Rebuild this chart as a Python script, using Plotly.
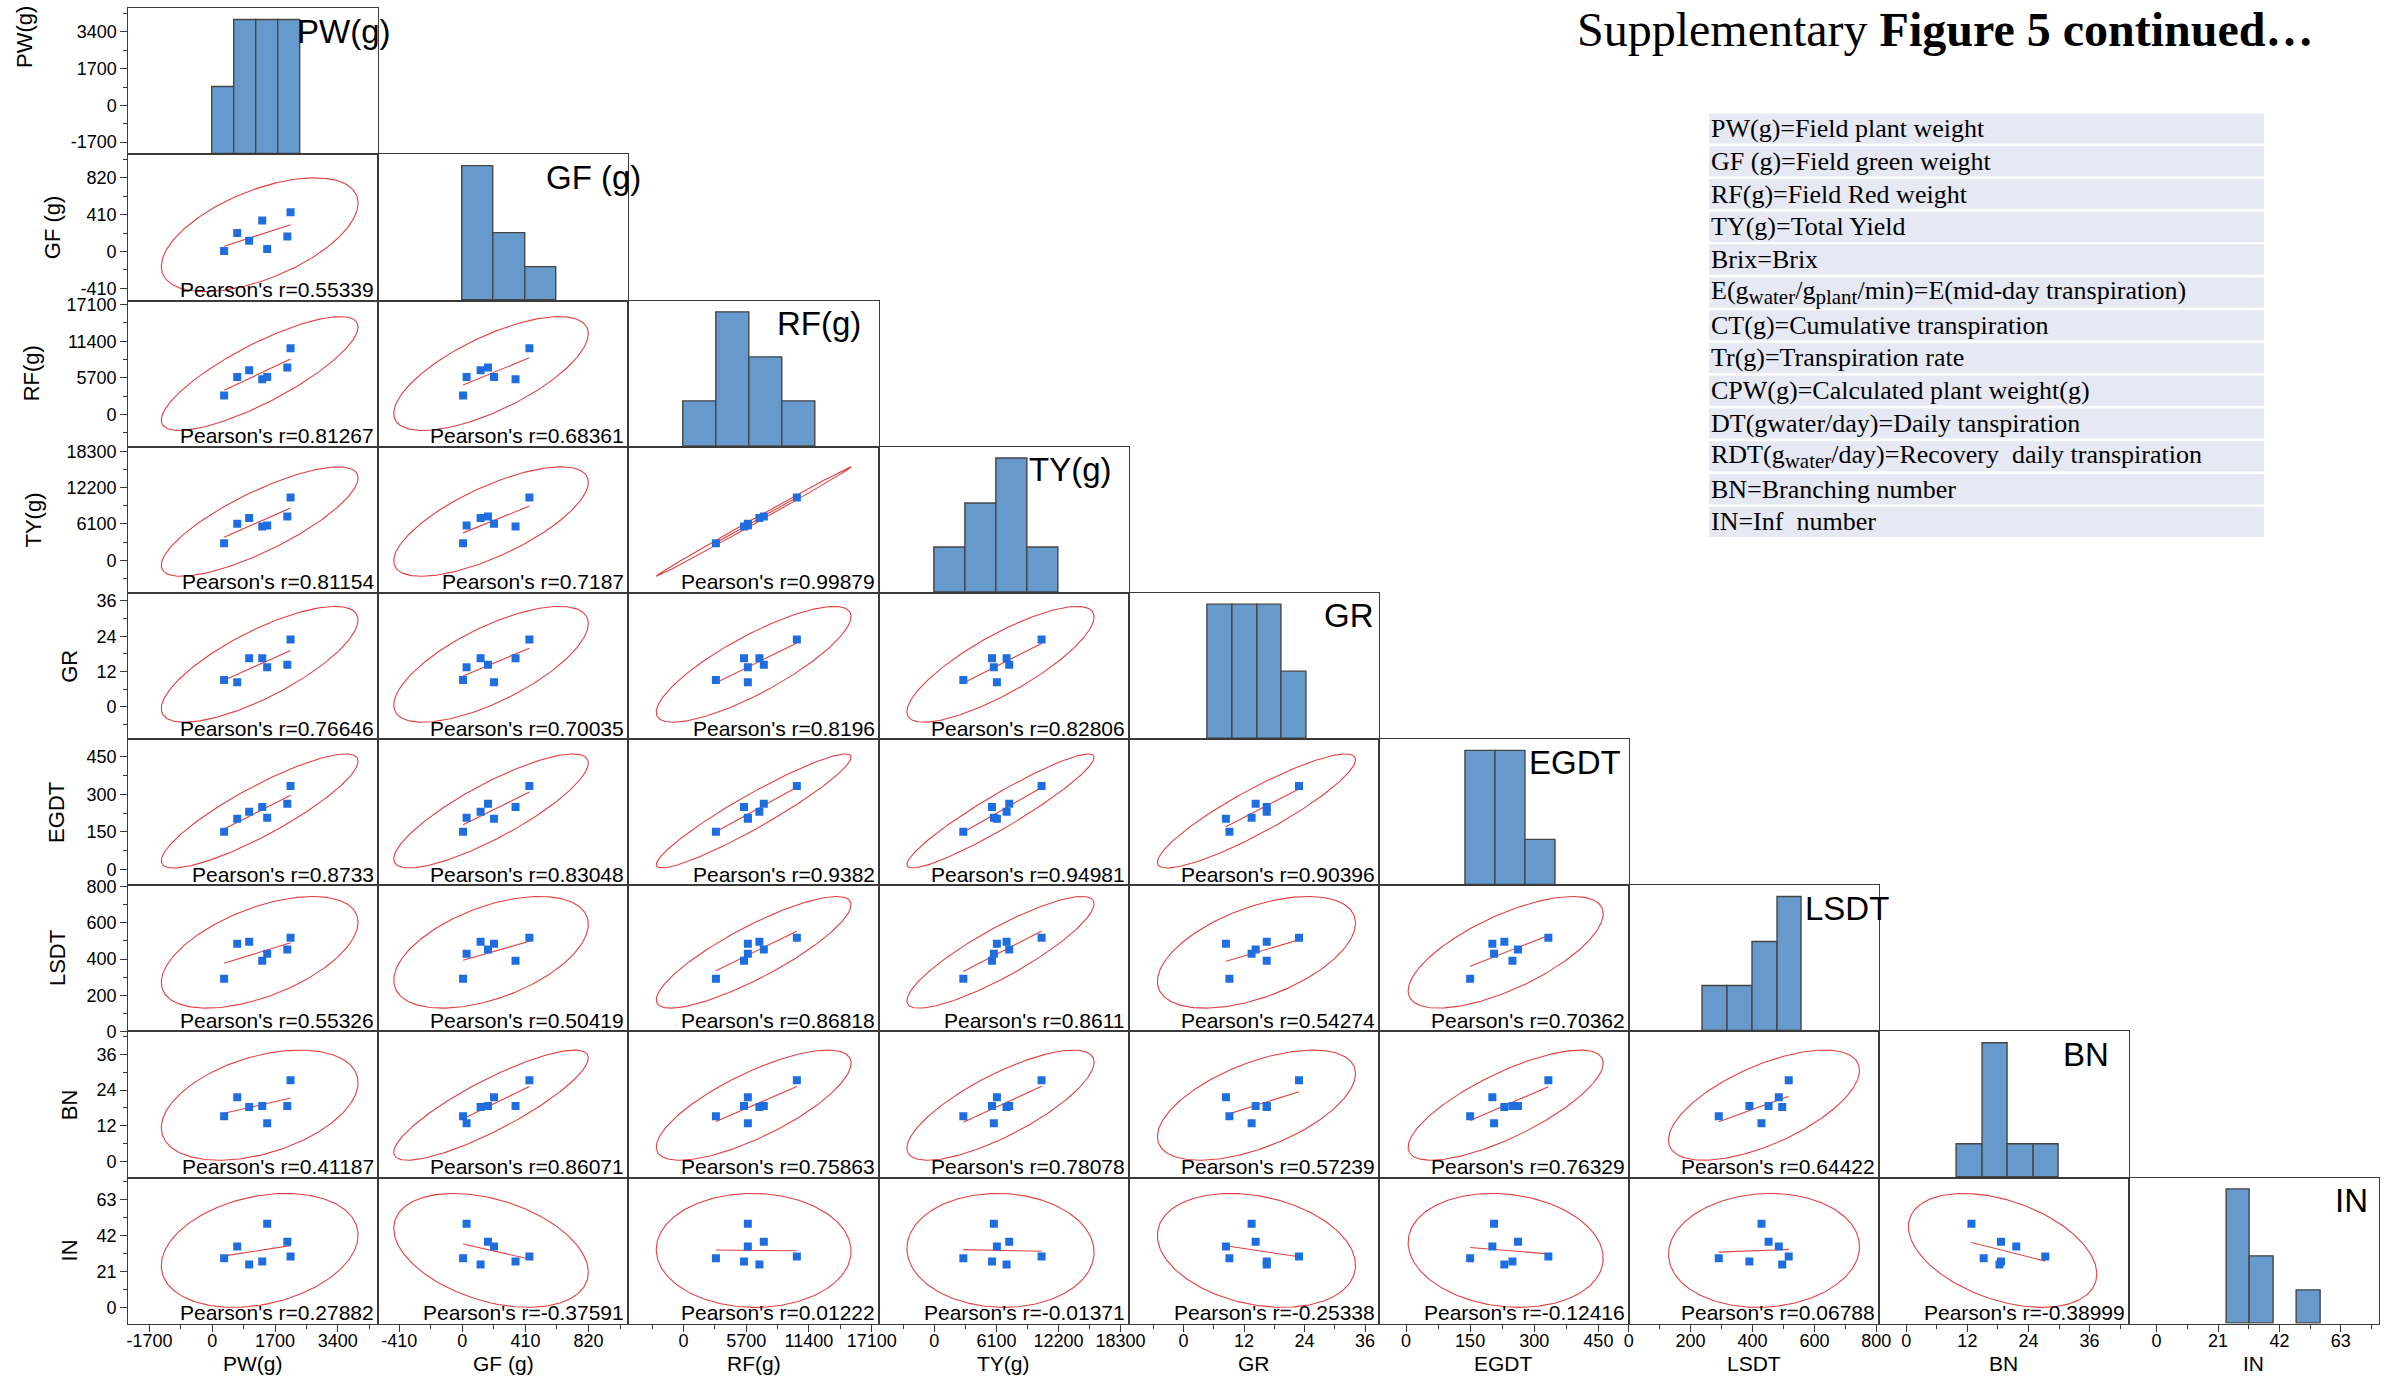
import numpy as np
import plotly.graph_objects as go

# ---------------- data ----------------
var_names = ["PW(g)", "GF (g)", "RF(g)", "TY(g)", "GR", "EGDT", "LSDT", "BN", "IN"]

PW = [322, 677, 1000, 1354, 1488, 2033, 2121]
GF = [5, 206, 119, 346, 28, 167, 436]
RF = [2950, 5850, 6900, 5500, 5850, 7300, 10300]
TY = [2850, 6150, 7100, 5670, 5850, 7360, 10540]
GR = [9.1, 8.4, 16.5, 16.5, 13.5, 14.3, 22.9]
EGDT = [150, 202, 230, 249, 206, 262, 333]
LSDT = [291, 485, 496, 390, 429, 452, 517]
BN = [15.2, 21.6, 18.3, 18.6, 12.8, 18.6, 27.3]
IN = [28.8, 35.6, 25.1, 26.9, 49.0, 38.5, 29.8]

axis_min = [-2270, -545, -4990, -5480, -10.9, -64, 0, -5.4, -9.5]
axis_max = [4500, 1080, 17720, 19090, 38.7, 521, 808, 43.7, 76]
tick_step = [1700, 410, 5700, 6100, 12, 150, 200, 12, 21]
bin_start = [0, 0, 0, 0, 4.8, 140, 240, 10, 24]
bin_size = [600, 204, 3000, 3050, 4.9, 70, 80, 5, 8]

pearson_r = [
    [],
    ["0.55339"],
    ["0.81267", "0.68361"],
    ["0.81154", "0.7187", "0.99879"],
    ["0.76646", "0.70035", "0.8196", "0.82806"],
    ["0.8733", "0.83048", "0.9382", "0.94981", "0.90396"],
    ["0.55326", "0.50419", "0.86818", "0.8611", "0.54274", "0.70362"],
    ["0.41187", "0.86071", "0.75863", "0.78078", "0.57239", "0.76329", "0.64422"],
    ["0.27882", "-0.37591", "0.01222", "-0.01371", "-0.25338", "-0.12416", "0.06788", "-0.38999"],
]

SUB = "<sub><span style='font-size:21px'>%s</span></sub>"
glossary = [
    "PW(g)=Field plant weight",
    "GF (g)=Field green weight",
    "RF(g)=Field Red weight",
    "TY(g)=Total Yield",
    "Brix=Brix",
    "E(g" + SUB % "water" + "/g" + SUB % "plant" + "/min)=E(mid-day transpiration)",
    "CT(g)=Cumulative transpiration",
    "Tr(g)=Transpiration rate",
    "CPW(g)=Calculated plant weight(g)",
    "DT(gwater/day)=Daily tanspiration",
    "RDT(g" + SUB % "water" + "/day)=Recovery  daily transpiration",
    "BN=Branching number",
    "IN=Inf  number",
]
title_text = "Supplementary <b>Figure 5 continued…</b>"

values = [PW, GF, RF, TY, GR, EGDT, LSDT, BN, IN]

# ---------------- style / geometry ----------------
W, H = 2399, 1383
# measured mapping from page pixels to the photographed picture
AX, BX, AY, BY = 0.989, 5.3, 0.9845, 9.8
X0, CW = 128.5, 249.7
Y0, RH = 10.0, 145.8
FONT = "Liberation Sans, Arial, sans-serif"
SERIF = "Liberation Serif, Times New Roman, serif"
LINE = "#3a3a3a"
RED = "#e0403f"
BLUE = "#1e6ee0"
HIST = "#6699cc"

diag_label_center = [215, 215, 190, 192, 220, 196, 218, 207, 222]
ytitle_x = [25, 53, 32, 34, 70, 56, 58, 70, 70]


def clamp(v):
    return min(1.0, max(0.0, v))


def px(x):
    return ((x - BX) / AX) / W


def py(y):
    return 1 - ((y - BY) / AY) / H


def tick_arrays(lo, hi, step):
    k0 = int(np.ceil(lo / step - 1e-9))
    k1 = int(np.floor(hi / step + 1e-9))
    vals = [step * kk for kk in range(k0, k1 + 1)]
    txt = [("%g" % v) for v in vals]
    return vals, txt


n = len(PW)
fq = (n - 2) / 2 * (0.05 ** (-2 / (n - 2)) - 1)
c2 = 2 * (n - 1) * (n + 1) / (n * (n - 2)) * fq
t = np.linspace(0, 2 * np.pi, 241)

fig = go.Figure()
layout = {}
annotations = []
shapes = []

tickfont = dict(family=FONT, size=18, color="black")


def tick_style(lo, hi, step, standoff=0):
    vals, txt = tick_arrays(lo, hi, step)
    return dict(ticks="outside", ticklen=7, tickwidth=1.3, tickcolor=LINE,
                showticklabels=True, tickfont=tickfont, tickmode="array",
                tickvals=vals, ticktext=txt, ticklabelstandoff=standoff,
                minor=dict(ticks="outside", ticklen=4, tickwidth=1.1, tickcolor=LINE,
                           tickmode="linear", tick0=0, dtick=step / 2))


k = 0
for i in range(9):
    for j in range(i + 1):
        k += 1
        s = "" if k == 1 else str(k)
        xn, yn = "x" + s, "y" + s
        xdom = [clamp(px(X0 + j * CW)), clamp(px(X0 + (j + 1) * CW))]
        ydom = [clamp(py(Y0 + (i + 1) * RH)), clamp(py(Y0 + i * RH))]

        xa = dict(domain=xdom, range=[axis_min[j], axis_max[j]], anchor=yn,
                  showgrid=False, zeroline=False, showline=True, mirror=True,
                  linecolor=LINE, linewidth=1.3, fixedrange=True)
        if i == 8:
            xa.update(tick_style(axis_min[j], axis_max[j], tick_step[j], standoff=-6))
        else:
            xa.update(ticks="", showticklabels=False)

        ya = dict(domain=ydom, anchor=xn, showgrid=False, zeroline=False,
                  showline=True, mirror=True, linecolor=LINE, linewidth=1.3,
                  fixedrange=True)

        if i == j:
            v = np.array(values[i], dtype=float)
            edges = np.arange(bin_start[i], v.max() + bin_size[i] * 1.01, bin_size[i])
            counts, _ = np.histogram(v, bins=edges)
            ya.update(range=[0, counts.max() / 0.92], ticks="", showticklabels=False)
            fig.add_trace(go.Histogram(
                x=values[i], xaxis=xn, yaxis=yn, showlegend=False,
                xbins=dict(start=bin_start[i], end=edges[-1], size=bin_size[i]),
                marker=dict(color=HIST, line=dict(color="#454545", width=1.4)),
                hoverinfo="skip"))
            annotations.append(dict(
                text=var_names[i], xref="paper", yref="paper",
                x=px(X0 + j * CW + diag_label_center[i]), y=py(Y0 + i * RH + 23),
                xanchor="center", yanchor="middle", showarrow=False,
                font=dict(family=FONT, size=33, color="black")))
        else:
            ya.update(range=[axis_min[i], axis_max[i]])
            if j == 0:
                ya.update(tick_style(axis_min[i], axis_max[i], tick_step[i]))
            else:
                ya.update(ticks="", showticklabels=False)

            x = np.array(values[j], dtype=float)
            y = np.array(values[i], dtype=float)
            # 95% prediction ellipse
            S = np.cov(x, y)
            ev, evec = np.linalg.eigh(S)
            circ = np.vstack([np.cos(t), np.sin(t)])
            pts = evec @ (np.sqrt(c2 * np.clip(ev, 0, None))[:, None] * circ)
            fig.add_trace(go.Scatter(
                x=x.mean() + pts[0], y=y.mean() + pts[1], mode="lines",
                line=dict(color=RED, width=1.1), xaxis=xn, yaxis=yn,
                showlegend=False, hoverinfo="skip"))
            # linear fit
            b, a = np.polyfit(x, y, 1)
            xl = np.array([x.min(), x.max()])
            fig.add_trace(go.Scatter(
                x=xl, y=a + b * xl, mode="lines", line=dict(color=RED, width=1.1),
                xaxis=xn, yaxis=yn, showlegend=False, hoverinfo="skip"))
            fig.add_trace(go.Scatter(
                x=values[j], y=values[i], mode="markers",
                marker=dict(symbol="square", size=8, color=BLUE),
                xaxis=xn, yaxis=yn, showlegend=False, hoverinfo="skip"))
            annotations.append(dict(
                text="Pearson's r=" + pearson_r[i][j], xref="paper", yref="paper",
                x=px(X0 + (j + 1) * CW - 2), y=py(Y0 + (i + 1) * RH - 11),
                xanchor="right", yanchor="middle", showarrow=False,
                font=dict(family=FONT, size=21, color="black")))

        layout["xaxis" + s] = xa
        layout["yaxis" + s] = ya

# overlay axis carrying the PW scale next to the PW histogram
ov = dict(overlaying="y", anchor="x", side="left",
          range=[axis_min[0], axis_max[0]], showgrid=False, zeroline=False,
          showline=False, fixedrange=True)
ov.update(tick_style(axis_min[0], axis_max[0], tick_step[0]))
layout["yaxis46"] = ov
fig.add_trace(go.Scatter(x=[None], y=[None], xaxis="x", yaxis="y46", mode="markers",
                         showlegend=False, hoverinfo="skip"))

# axis titles
for i in range(9):
    yc = Y0 + i * RH + RH / 2 if i > 0 else 39
    annotations.append(dict(text=var_names[i], xref="paper", yref="paper",
                            x=px(ytitle_x[i]), y=py(yc), textangle=-90,
                            xanchor="center", yanchor="middle", showarrow=False,
                            font=dict(family=FONT, size=22, color="black")))
    annotations.append(dict(text=var_names[i], xref="paper", yref="paper",
                            x=px(X0 + i * CW + CW / 2), y=py(1362),
                            xanchor="center", yanchor="middle", showarrow=False,
                            font=dict(family=FONT, size=21, color="black")))

# figure title
annotations.append(dict(text=title_text, xref="paper", yref="paper",
                        x=px(1573), y=py(31), xanchor="left", yanchor="middle",
                        showarrow=False, font=dict(family=SERIF, size=48, color="black")))

# glossary table
G_X0, G_X1, G_TOP, G_PITCH, G_H = 1707, 2261, 115, 32.7, 30
for r, txt in enumerate(glossary):
    top = G_TOP + r * G_PITCH
    shapes.append(dict(type="rect", xref="paper", yref="paper",
                       x0=px(G_X0), x1=px(G_X1), y0=py(top + G_H), y1=py(top),
                       fillcolor="#e6e8f4", line=dict(width=0), layer="below"))
    annotations.append(dict(text=txt, xref="paper", yref="paper",
                            x=px(G_X0), y=py(top + G_H / 2), xanchor="left",
                            yanchor="middle", showarrow=False,
                            font=dict(family=SERIF, size=26, color="black")))

fig.update_layout(**layout)
fig.update_layout(width=W, height=H, margin=dict(l=0, r=0, t=0, b=0),
                  paper_bgcolor="white", plot_bgcolor="white", bargap=0,
                  annotations=annotations, shapes=shapes, showlegend=False)

fig.write_html("out.html", config={"displayModeBar": False},
               post_script="document.body.style.margin='0';document.body.style.overflow='hidden';")
